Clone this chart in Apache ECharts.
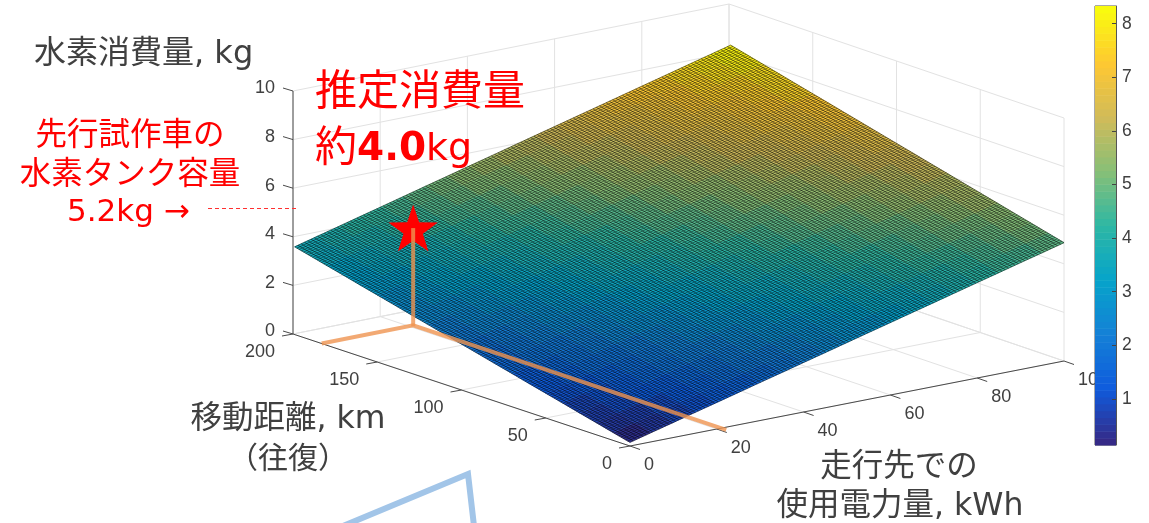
<!DOCTYPE html>
<html><head><meta charset="utf-8">
<style>html,body{margin:0;padding:0;background:#fff}#c{width:1149px;height:523px}</style>
<script src="https://cdn.jsdelivr.net/npm/echarts@6/dist/echarts.min.js"></script>
</head><body><div id="c"></div>
<script>
// ---- data ----
const distanceKm = [0,10,20,30,40,50,60,70,80,90,100,110,120,130,140,150,160,170,180,190,199];
const powerKWh = [0,5,10,15,20,25,30,35,40,45,50,55,60,65,70,75,80,85,90,95,100];
const h2Kg = [
[.15,.39,.62,.86,1.09,1.33,1.57,1.80,2.04,2.27,2.51,2.75,2.98,3.22,3.45,3.69,3.93,4.16,4.40,4.63,4.87],
[.32,.56,.79,1.03,1.26,1.50,1.74,1.97,2.21,2.44,2.68,2.92,3.15,3.39,3.62,3.86,4.10,4.33,4.57,4.80,5.04],
[.50,.74,.97,1.21,1.44,1.68,1.92,2.15,2.39,2.62,2.86,3.10,3.33,3.57,3.80,4.04,4.28,4.51,4.75,4.98,5.22],
[.67,.91,1.14,1.38,1.61,1.85,2.09,2.32,2.56,2.79,3.03,3.27,3.50,3.74,3.97,4.21,4.45,4.68,4.92,5.15,5.39],
[.85,1.09,1.32,1.56,1.79,2.03,2.27,2.50,2.74,2.97,3.21,3.45,3.68,3.92,4.15,4.39,4.63,4.86,5.10,5.33,5.57],
[1.02,1.26,1.49,1.73,1.96,2.20,2.44,2.67,2.91,3.14,3.38,3.62,3.85,4.09,4.32,4.56,4.80,5.03,5.27,5.50,5.74],
[1.19,1.43,1.66,1.90,2.13,2.37,2.61,2.84,3.08,3.31,3.55,3.79,4.02,4.26,4.49,4.73,4.97,5.20,5.44,5.67,5.91],
[1.37,1.61,1.84,2.08,2.31,2.55,2.79,3.02,3.26,3.49,3.73,3.97,4.20,4.44,4.67,4.91,5.15,5.38,5.62,5.85,6.09],
[1.54,1.78,2.01,2.25,2.48,2.72,2.96,3.19,3.43,3.66,3.90,4.14,4.37,4.61,4.84,5.08,5.32,5.55,5.79,6.02,6.26],
[1.72,1.96,2.19,2.43,2.66,2.90,3.14,3.37,3.61,3.84,4.08,4.32,4.55,4.79,5.02,5.26,5.50,5.73,5.97,6.20,6.44],
[1.89,2.13,2.36,2.60,2.83,3.07,3.31,3.54,3.78,4.01,4.25,4.49,4.72,4.96,5.19,5.43,5.67,5.90,6.14,6.37,6.61],
[2.06,2.30,2.53,2.77,3.00,3.24,3.48,3.71,3.95,4.18,4.42,4.66,4.89,5.13,5.36,5.60,5.84,6.07,6.31,6.54,6.78],
[2.24,2.48,2.71,2.95,3.18,3.42,3.66,3.89,4.13,4.36,4.60,4.84,5.07,5.31,5.54,5.78,6.02,6.25,6.49,6.72,6.96],
[2.41,2.65,2.88,3.12,3.35,3.59,3.83,4.06,4.30,4.53,4.77,5.01,5.24,5.48,5.71,5.95,6.19,6.42,6.66,6.89,7.13],
[2.59,2.83,3.06,3.30,3.53,3.77,4.01,4.24,4.48,4.71,4.95,5.19,5.42,5.66,5.89,6.13,6.37,6.60,6.84,7.07,7.31],
[2.76,3.00,3.23,3.47,3.70,3.94,4.18,4.41,4.65,4.88,5.12,5.36,5.59,5.83,6.06,6.30,6.54,6.77,7.01,7.24,7.48],
[2.93,3.17,3.40,3.64,3.87,4.11,4.35,4.58,4.82,5.05,5.29,5.53,5.76,6.00,6.23,6.47,6.71,6.94,7.18,7.41,7.65],
[3.11,3.35,3.58,3.82,4.05,4.29,4.53,4.76,5.00,5.23,5.47,5.71,5.94,6.18,6.41,6.65,6.89,7.12,7.36,7.59,7.83],
[3.28,3.52,3.75,3.99,4.22,4.46,4.70,4.93,5.17,5.40,5.64,5.88,6.11,6.35,6.58,6.82,7.06,7.29,7.53,7.76,8.00],
[3.46,3.70,3.93,4.17,4.40,4.64,4.88,5.11,5.35,5.58,5.82,6.06,6.29,6.53,6.76,7.00,7.24,7.47,7.71,7.94,8.18],
[3.61,3.85,4.08,4.32,4.55,4.79,5.03,5.26,5.50,5.73,5.97,6.21,6.44,6.68,6.91,7.15,7.39,7.62,7.86,8.09,8.33]
];
const distanceTicks = [0,50,100,150,200];
const powerTicks = [0,20,40,60,80,100];
const h2Ticks = [0,2,4,6,8,10];
const colorbarTicks = [1,2,3,4,5,6,7,8];
const colorMin = 0.14, colorMax = 8.33;
const estimateDistance = [183,183,-3];
const estimatePower = [0,21,21];
const estimateH2 = 4.0;

// ---- view (orthographic-like projection of the box) ----
const F={x:630,y:446}, L={x:293,y:334}, R={x:1064,y:361}, B={x:729,y:247};
const PXZ=24.3, MESH_D=150, MESH_P=133;
function proj(d,p,z){
  const a=d/200,b=p/100;
  return [ (1-a)*(1-b)*F.x+a*(1-b)*L.x+(1-a)*b*R.x+a*b*B.x,
           (1-a)*(1-b)*F.y+a*(1-b)*L.y+(1-a)*b*R.y+a*b*B.y-z*PXZ ];
}
const parulaKeys=['#352a87','#0f5cdd','#1481d6','#06a4ca','#2eb7a4','#87bf77','#d1bb59','#fec832','#f9fb0e'];
const palette=[];
for(let i=0;i<64;i++){palette.push(echarts.color.lerp(i/63,parulaKeys));}
function colorOf(z){let t=(z-colorMin)/(colorMax-colorMin);t=Math.max(0,Math.min(0.9999,t));return palette[Math.floor(t*64)];}

const cells=[];
for(let i=0;i<distanceKm.length-1;i++)for(let j=0;j<powerKWh.length-1;j++)cells.push([i,j]);

const AXC='#4a4a4a',GRC='#e2e2e2',TXT='#404040';
const LATIN='"Liberation Sans",Arial,sans-serif', JP='"DejaVu Sans","Noto Sans CJK JP","Noto Sans",sans-serif';
function seg(api,a,b,color,w){
  const p=api.coord(a),q=api.coord(b);
  return {type:'line',shape:{x1:p[0],y1:p[1],x2:q[0],y2:q[1]},style:{stroke:color,lineWidth:w,fill:null},silent:true};
}
function renderBox(params,api){
  const ch=[];
  h2Ticks.forEach(z=>{
    ch.push(seg(api,proj(200,0,z),proj(200,100,z),GRC,1));
    ch.push(seg(api,proj(200,100,z),proj(0,100,z),GRC,1));
  });
  powerTicks.forEach(p=>{
    ch.push(seg(api,proj(0,p,0),proj(200,p,0),GRC,1));
    ch.push(seg(api,proj(200,p,0),proj(200,p,10),GRC,1));
  });
  distanceTicks.forEach(d=>{
    ch.push(seg(api,proj(d,0,0),proj(d,100,0),GRC,1));
    ch.push(seg(api,proj(d,100,0),proj(d,100,10),GRC,1));
  });
  ch.push(seg(api,proj(200,0,0),proj(200,0,10),AXC,1));
  ch.push(seg(api,proj(200,0,0),proj(0,0,0),AXC,1));
  ch.push(seg(api,proj(0,0,0),proj(0,100,0),AXC,1));
  h2Ticks.forEach(z=>{const o=proj(200,0,z);ch.push(seg(api,o,[o[0]-10,o[1]-3],AXC,1));});
  distanceTicks.forEach(d=>{const o=proj(d,0,0);ch.push(seg(api,o,[o[0]-11,o[1]+2],AXC,1));});
  powerTicks.forEach(p=>{const o=proj(0,p,0);ch.push(seg(api,o,[o[0]+10,o[1]+3.5],AXC,1));});
  return {type:'group',children:ch};
}
function renderCell(params,api){
  const i=api.value(0),j=api.value(1);
  const ds=[i,i,i+1,i+1],ps=[j,j+1,j+1,j];
  const pts=ds.map((a,k)=>api.coord(proj(distanceKm[a],powerKWh[ps[k]],h2Kg[a][ps[k]])));
  const z=(h2Kg[i][j]+h2Kg[i][j+1]+h2Kg[i+1][j]+h2Kg[i+1][j+1])/4;
  const c=colorOf(z);
  return {type:'polygon',shape:{points:pts},style:{fill:c,stroke:c,lineWidth:0.6},silent:true};
}
function renderMesh(params,api){
  const n=distanceKm.length-1,m=powerKWh.length-1;
  const c00=proj(distanceKm[0],powerKWh[0],h2Kg[0][0]), c01=proj(distanceKm[0],powerKWh[m],h2Kg[0][m]),
        c10=proj(distanceKm[n],powerKWh[0],h2Kg[n][0]), c11=proj(distanceKm[n],powerKWh[m],h2Kg[n][m]);
  const mix=(a,b,t)=>[a[0]+(b[0]-a[0])*t,a[1]+(b[1]-a[1])*t];
  const ch=[];
  for(let k=0;k<=MESH_D;k++){const t=k/MESH_D;ch.push(seg(api,mix(c00,c10,t),mix(c01,c11,t),'rgba(0,0,0,0.9)',0.55));}
  for(let k=0;k<=MESH_P;k++){const t=k/MESH_P;ch.push(seg(api,mix(c00,c01,t),mix(c10,c11,t),'rgba(0,0,0,0.9)',0.55));}
  return {type:'group',children:ch};
}
function renderStar(params,api){
  const o=api.coord(proj(estimateDistance[1],estimatePower[1],estimateH2));
  const pts=[],Ro=26,Ri=10.2,cy=o[1]+2.5;
  for(let k=0;k<10;k++){const r=k%2?Ri:Ro,t=-Math.PI/2+k*Math.PI/5;pts.push([o[0]+r*Math.cos(t),cy+r*Math.sin(t)]);}
  return {type:'polygon',shape:{points:pts},style:{fill:'#ff0000'},silent:true};
}
function renderGuide(params,api){
  const pts=estimateDistance.map((d,k)=>api.coord(proj(d,estimatePower[k],0)));
  const base=api.coord(proj(estimateDistance[1],estimatePower[1],0));
  const top=api.coord(proj(estimateDistance[1],estimatePower[1],estimateH2));
  const st={stroke:'#ef9350',opacity:0.8,lineWidth:4,fill:null,lineJoin:'miter'};
  return {type:'group',children:[
    {type:'polyline',shape:{points:pts},style:st,silent:true},
    {type:'line',shape:{x1:base[0],y1:base[1]+1,x2:top[0],y2:top[1]},style:st,silent:true}
  ]};
}
function tickText(api,pos,text,dx,dy,align){
  const c=api.coord(pos);
  return {type:'text',x:c[0]+dx,y:c[1]+dy,silent:true,
    style:{text:String(text),fontFamily:LATIN,fontSize:18,fill:TXT,align:align,verticalAlign:'middle'}};
}
function renderLabels(params,api){
  const ch=[];
  h2Ticks.forEach(z=>ch.push(tickText(api,proj(200,0,z),z,-18,-2.5,'right')));
  distanceTicks.forEach(d=>ch.push(tickText(api,proj(d,0,0),d,-18,18.5,'right')));
  powerTicks.forEach(p=>ch.push(tickText(api,proj(0,p,0),p,14,19,'left')));
  return {type:'group',children:ch};
}
function renderBand(params,api){
  const i=api.value(0);
  const a=colorMin+(colorMax-colorMin)*i/64,b=colorMin+(colorMax-colorMin)*(i+1)/64;
  const p=api.coord([0,a]),q=api.coord([1,b]);
  return {type:'rect',shape:{x:p[0],y:q[1],width:q[0]-p[0],height:p[1]-q[1]+0.5},style:{fill:palette[i]},silent:true};
}
const one=(fn,z)=>({type:'custom',coordinateSystem:'cartesian2d',xAxisIndex:0,yAxisIndex:0,renderItem:fn,data:[[0,0]],z:z,animation:false,silent:true,clip:false});
const gtext=(text,x,y,size,color,align)=>({type:'text',x:x,y:y,z:50,silent:true,
  style:{text:text,fontFamily:JP,fontSize:size,fill:color,align:align||'left',verticalAlign:'middle'}});

const chart=echarts.init(document.getElementById('c'),null,{renderer:'canvas'});
chart.setOption({
  animation:false,backgroundColor:'#fff',
  grid:[{left:0,top:0,width:1149,height:523,containLabel:false},
        {left:1095,top:6,width:21,height:439,show:true,borderColor:'#555',borderWidth:1,backgroundColor:'#fff',z:30}],
  xAxis:[{type:'value',min:0,max:1149,show:false},{gridIndex:1,type:'value',min:0,max:1,show:false}],
  yAxis:[{type:'value',min:0,max:523,inverse:true,show:false},
    {gridIndex:1,type:'value',min:colorMin,max:colorMax,position:'right',z:40,
     splitLine:{show:false},axisLine:{show:true,onZero:false,lineStyle:{color:'#555',width:1}},
     axisTick:{inside:true,length:4,lineStyle:{color:'#444',width:1},customValues:colorbarTicks},
     axisLabel:{customValues:colorbarTicks,margin:6,fontFamily:LATIN,fontSize:17.5,color:TXT}}],
  series:[
    one(renderBox,1),
    {type:'custom',coordinateSystem:'cartesian2d',xAxisIndex:0,yAxisIndex:0,renderItem:renderCell,data:cells,z:2,animation:false,silent:true,clip:false,encode:{x:0,y:1}},
    one(renderMesh,3),
    one(renderStar,4),
    one(renderGuide,5),
    one(renderLabels,6),
    {type:'custom',coordinateSystem:'cartesian2d',xAxisIndex:1,yAxisIndex:1,renderItem:renderBand,
     data:palette.map((c,i)=>[i,0]),z:35,animation:false,silent:true,clip:false,encode:{x:1,y:0}}
  ],
  graphic:{elements:[
    gtext('水素消費量, kg',34,55,32,TXT),
    gtext('推定消費量',315,94,42,'#ff0000'),
    {type:'text',x:315,y:150,z:50,silent:true,style:{text:'{a|約}{b|4.0}{c|kg}',verticalAlign:'middle',align:'left',fill:'#ff0000',
      rich:{a:{fontFamily:JP,fontSize:42,fill:'#ff0000',fontWeight:'normal'},b:{fontFamily:JP,fontSize:39,fontWeight:'bold',fill:'#ff0000'},c:{fontFamily:JP,fontSize:38,fill:'#ff0000'}}}},
    gtext('先行試作車の',130,137,31.5,'#ff0000','center'),
    gtext('水素タンク容量',130,176,31.5,'#ff0000','center'),
    gtext('5.2kg →',67,213,31,'#ff0000'),
    {type:'line',z:50,silent:true,shape:{x1:208,y1:208.5,x2:298,y2:208.5},style:{stroke:'#ff3030',lineWidth:1,lineDash:[4,3]}},
    gtext('移動距離, km',288,420,31.5,TXT,'center'),
    gtext('（往復）',288,460,30,TXT,'center'),
    gtext('走行先での',899,468,31.5,TXT,'center'),
    gtext('使用電力量, kWh',900,507,31.5,TXT,'center'),
    {type:'polyline',z:50,silent:true,shape:{points:[[343,526],[468,474],[474,526]]},style:{stroke:'#a2c5e8',lineWidth:6,fill:null,lineJoin:'miter'}}
  ]}
});
</script></body></html>
